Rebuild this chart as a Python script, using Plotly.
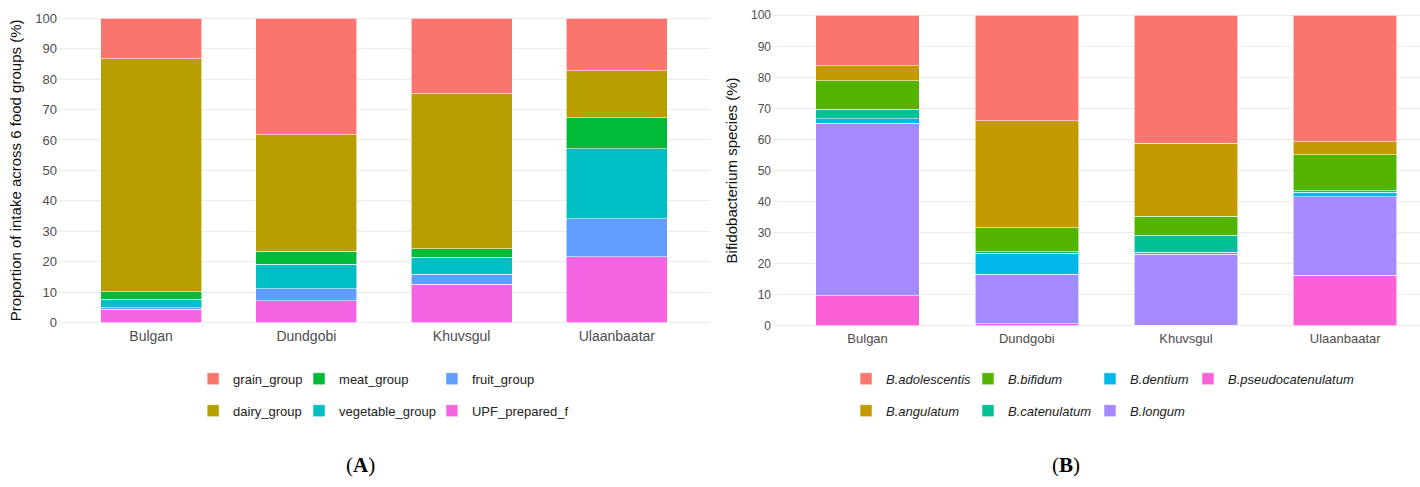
import plotly.graph_objects as go

sites = ["Bulgan", "Dundgobi", "Khuvsgul", "Ulaanbaatar"]

# (A) food groups, listed from the bottom of the stack upwards
upf = [4.4, 7.2, 12.6, 21.7]
fruit = [0.5, 4.0, 3.4, 12.4]
vegetable = [2.8, 8.0, 5.5, 23.0]
meat = [2.4, 4.3, 2.8, 10.2]
dairy = [76.5, 38.3, 50.8, 15.4]
grain = [13.4, 38.2, 24.9, 17.3]

# (B) Bifidobacterium species, bottom of the stack upwards
pseudocatenulatum = [9.6, 0.6, 0.2, 16.3]
longum = [55.6, 15.9, 22.8, 25.2]
dentium = [1.5, 6.8, 0.6, 1.4]
catenulatum = [3.1, 0.5, 5.6, 0.6]
bifidum = [9.1, 7.7, 6.1, 11.5]
angulatum = [4.9, 34.5, 23.5, 4.2]
adolescentis = [16.2, 34.0, 41.2, 40.8]

# name, values, colour, legend column, rank inside the column
food = [
    ("UPF_prepared_f", upf, "#F564E3", "legend3", 2),
    ("fruit_group", fruit, "#619CFF", "legend3", 1),
    ("vegetable_group", vegetable, "#00BFC4", "legend2", 2),
    ("meat_group", meat, "#00BA38", "legend2", 1),
    ("dairy_group", dairy, "#B79F00", "legend", 2),
    ("grain_group", grain, "#F8766D", "legend", 1),
]
bifido = [
    ("B.pseudocatenulatum", pseudocatenulatum, "#FB61D7", "legend7", 1),
    ("B.longum", longum, "#A58AFF", "legend6", 2),
    ("B.dentium", dentium, "#00B6EB", "legend6", 1),
    ("B.catenulatum", catenulatum, "#00C094", "legend5", 2),
    ("B.bifidum", bifidum, "#53B400", "legend5", 1),
    ("B.angulatum", angulatum, "#C49A00", "legend4", 2),
    ("B.adolescentis", adolescentis, "#F8766D", "legend4", 1),
]

fig = go.Figure()

for name, vals, col, leg, rank in food:
    fig.add_trace(go.Bar(
        x=sites, y=vals, name=name, marker_color=col,
        marker_line=dict(color="rgba(255,255,255,0.7)", width=0.8),
        legend=leg, legendgroup=name, legendrank=rank, xaxis="x", yaxis="y",
    ))

for name, vals, col, leg, rank in bifido:
    fig.add_trace(go.Bar(
        x=sites, y=vals, name="<i>" + name + "</i>", marker_color=col,
        marker_line=dict(color="rgba(255,255,255,0.7)", width=0.8),
        legend=leg, legendgroup=name, legendrank=rank, xaxis="x2", yaxis="y2",
    ))

tick_col = "#4D4D4D"
grid_col = "#EBEBEB"

def legend_at(x, y):
    return dict(
        x=x, y=y, xanchor="left", yanchor="top", orientation="v",
        traceorder="grouped", tracegroupgap=12,
        font=dict(size=13, color="#222222"), bgcolor="rgba(0,0,0,0)",
    )

fig.update_layout(
    width=1420, height=487,
    margin=dict(l=0, r=0, t=0, b=0),
    paper_bgcolor="white", plot_bgcolor="white",
    font=dict(family="Liberation Sans, Arial, sans-serif"),
    barmode="stack", bargap=0.35,
    xaxis=dict(domain=[0.0408, 0.5], range=[-0.6, 3.6], anchor="y",
               showgrid=False, zeroline=False, ticks="",
               tickfont=dict(size=14, color=tick_col)),
    yaxis=dict(domain=[0.331, 0.969], range=[-1, 101], anchor="x",
               tickvals=list(range(0, 101, 10)), gridcolor=grid_col,
               zeroline=False, ticks="", automargin=False,
               tickfont=dict(size=13, color=tick_col),
               title=dict(text="Proportion of intake across 6 food groups (%)",
                          font=dict(size=15, color="#111111"), standoff=9)),
    xaxis2=dict(domain=[0.5437, 1.0], range=[-0.6, 3.47], anchor="y2",
                showgrid=False, zeroline=False, ticks="",
                tickfont=dict(size=13, color=tick_col)),
    yaxis2=dict(domain=[0.325, 0.975], range=[-1, 101], anchor="x2",
                tickvals=list(range(0, 101, 10)), gridcolor=grid_col,
                zeroline=False, ticks="", automargin=False,
                tickfont=dict(size=12, color=tick_col),
                title=dict(text="Bifidobacterium species (%)",
                           font=dict(size=15, color="#111111"), standoff=9)),
    legend=legend_at(0.136, 0.253),
    legend2=legend_at(0.2106, 0.253),
    legend3=legend_at(0.3042, 0.253),
    legend4=legend_at(0.5958, 0.253),
    legend5=legend_at(0.6817, 0.253),
    legend6=legend_at(0.7676, 0.253),
    legend7=legend_at(0.8366, 0.253),
    annotations=[
        dict(text="(<b>A</b>)", x=0.254, y=0.045, xref="paper", yref="paper",
             xanchor="center", yanchor="middle", showarrow=False,
             font=dict(family="Liberation Serif, Times New Roman, serif", size=21, color="black")),
        dict(text="(<b>B</b>)", x=0.751, y=0.045, xref="paper", yref="paper",
             xanchor="center", yanchor="middle", showarrow=False,
             font=dict(family="Liberation Serif, Times New Roman, serif", size=21, color="black")),
    ],
)

# drop the default page margin so the figure sits at the window's top-left corner
fig.write_html("out.html", config={"displayModeBar": False},
               post_script="document.body.style.margin='0';")
